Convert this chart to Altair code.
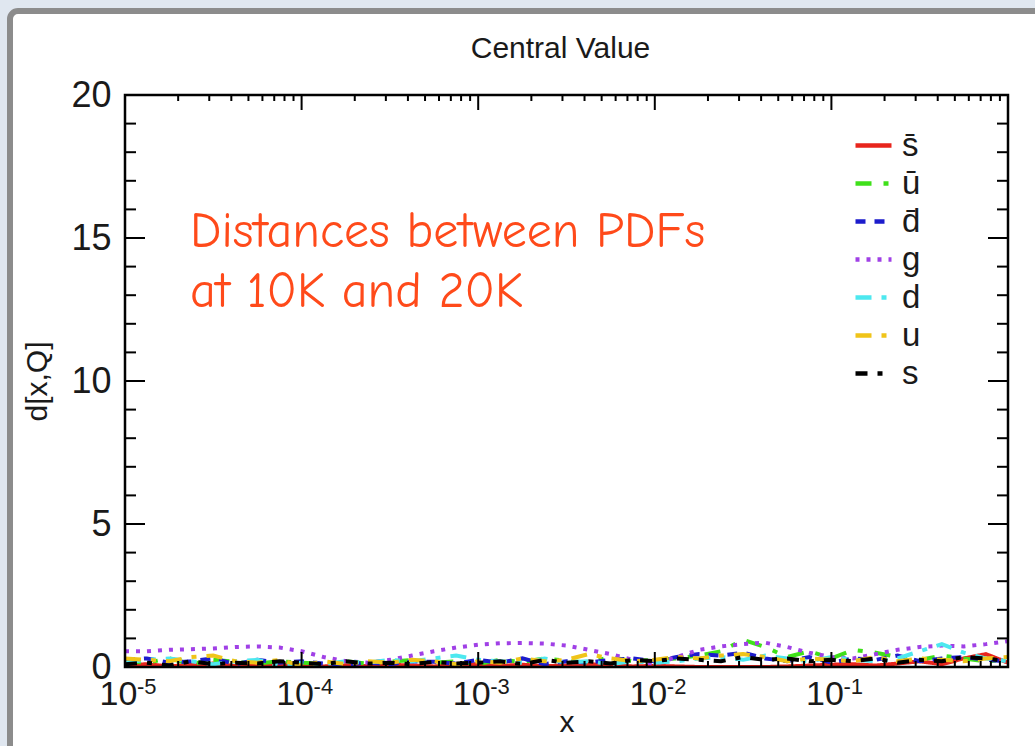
import altair as alt
import pandas as pd

# ---------------- data ----------------
X = [1.0e-5, 1.33e-5, 1.78e-5, 2.37e-5, 3.16e-5, 4.22e-5, 5.62e-5, 7.5e-5,
     1.0e-4, 1.33e-4, 1.78e-4, 2.37e-4, 3.16e-4, 4.22e-4, 5.62e-4, 7.5e-4,
     1.0e-3, 1.33e-3, 1.78e-3, 2.37e-3, 3.16e-3, 4.22e-3, 5.62e-3, 7.5e-3,
     1.0e-2, 1.33e-2, 1.78e-2, 2.37e-2, 3.16e-2, 4.22e-2, 5.62e-2, 7.5e-2,
     0.1, 0.133, 0.178, 0.237, 0.316, 0.422, 0.562, 0.75, 1.0]

SBAR = [0.05, 0.10, 0.02, 0.08, 0.12, 0.03, 0.05, 0.10,
        0.04, 0.02, 0.06, 0.03, 0.08, 0.05, 0.02, 0.06,
        0.10, 0.04, 0.08, 0.03, 0.05, 0.10, 0.06, 0.02,
        0.04, 0.02, 0.00, 0.00, 0.00, 0.00, 0.02, 0.05,
        0.08, 0.10, 0.05, 0.12, 0.20, 0.10, 0.30, 0.45, 0.15]
UBAR = [0.20, 0.15, 0.30, 0.10, 0.25, 0.18, 0.12, 0.20,
        0.15, 0.10, 0.20, 0.12, 0.18, 0.25, 0.15, 0.20,
        0.10, 0.25, 0.18, 0.30, 0.22, 0.15, 0.35, 0.20,
        0.25, 0.30, 0.40, 0.55, 0.95, 0.70, 0.35, 0.55,
        0.30, 0.60, 0.50, 0.35, 0.25, 0.40, 0.30, 0.20, 0.25]
DBAR = [0.25, 0.30, 0.15, 0.20, 0.30, 0.10, 0.25, 0.15,
        0.20, 0.12, 0.08, 0.15, 0.10, 0.20, 0.18, 0.12,
        0.25, 0.15, 0.30, 0.10, 0.20, 0.15, 0.25, 0.30,
        0.20, 0.35, 0.45, 0.40, 0.50, 0.30, 0.20, 0.35,
        0.15, 0.30, 0.25, 0.40, 0.20, 0.30, 0.35, 0.25, 0.20]
G = [0.55, 0.55, 0.60, 0.62, 0.65, 0.70, 0.72, 0.68,
     0.55, 0.35, 0.20, 0.15, 0.25, 0.40, 0.55, 0.68,
     0.78, 0.83, 0.84, 0.82, 0.75, 0.60, 0.45, 0.25,
     0.10, 0.35, 0.60, 0.72, 0.80, 0.85, 0.70, 0.50,
     0.35, 0.30, 0.45, 0.60, 0.70, 0.75, 0.72, 0.80, 0.90]
D = [0.15, 0.25, 0.30, 0.20, 0.10, 0.20, 0.25, 0.05,
     0.15, 0.10, 0.20, 0.15, 0.25, 0.20, 0.30, 0.40,
     0.25, 0.20, 0.15, 0.30, 0.15, 0.20, 0.10, 0.20,
     0.15, 0.20, 0.30, 0.35, 0.25, 0.40, 0.30, 0.20,
     0.35, 0.25, 0.20, 0.30, 0.55, 0.80, 0.50, 0.30, 0.20]
U = [0.30, 0.25, 0.20, 0.35, 0.40, 0.20, 0.15, 0.25,
     0.05, 0.20, 0.10, 0.20, 0.15, 0.25, 0.20, 0.10,
     0.20, 0.15, 0.30, 0.20, 0.25, 0.45, 0.30, 0.20,
     0.25, 0.35, 0.30, 0.40, 0.45, 0.35, 0.20, 0.30,
     0.25, 0.20, 0.35, 0.20, 0.30, 0.25, 0.20, 0.30, 0.35]
S = [0.10, 0.15, 0.05, 0.20, 0.10, 0.15, 0.12, 0.20,
     0.15, 0.10, 0.20, 0.12, 0.15, 0.10, 0.18, 0.12,
     0.15, 0.20, 0.10, 0.25, 0.15, 0.20, 0.12, 0.25,
     0.20, 0.30, 0.25, 0.20, 0.35, 0.25, 0.30, 0.20,
     0.25, 0.20, 0.30, 0.15, 0.25, 0.20, 0.35, 0.30, 0.20]

SERIES = ["s\u0304", "u\u0304", "d\u0304", "g", "d", "u", "s"]
VALUES = [SBAR, UBAR, DBAR, G, D, U, S]
COLORS = ["#e8251c", "#3fe01a", "#1c1ccc", "#a040e6", "#4de8ef", "#f0c419", "#000000"]
DASHES = [[1, 0], [16, 12, 5, 12], [10, 9], [4, 7], [16, 10, 5, 10], [16, 10, 5, 10], [12, 10, 5, 10]]

DECADES = [1e-5, 1e-4, 1e-3, 1e-2, 1e-1]
EXPONENTS = ["-5", "-4", "-3", "-2", "-1"]
MANTISSAS = [2, 3, 4, 5, 6, 7, 8, 9]
Y_LABELS = [0, 5, 10, 15, 20]
Y_MAJOR = [5, 10, 15]
Y_MINOR = [1, 2, 3, 4, 6, 7, 8, 9, 11, 12, 13, 14, 16, 17, 18, 19]

TITLE = "Central Value"
NOTE = "Distances between PDFs\nat 10K and 20K"

# ---------------- layout ----------------
W, H = 883, 572
FONT = "Liberation Sans, Arial, Helvetica, sans-serif"
INK = "#1a1a1a"

rows = []
for name, vals in zip(SERIES, VALUES):
    for xv, dv in zip(X, vals):
        rows.append({"series": name, "x": xv, "d": dv})
df = pd.DataFrame(rows)

xscale = alt.Scale(type="log", domain=[1e-5, 1], nice=False)
yscale = alt.Scale(domain=[0, 20], nice=False)

X_AXIS = alt.Axis(values=DECADES, labelExpr="'10'", title="x", domain=False,
                  ticks=False, grid=False, labelFontSize=34, labelFont=FONT,
                  labelColor=INK, labelPadding=10, labelOffset=-7, zindex=2,
                  labelFlush=False, labelOverlap=False,
                  titleFontSize=30, titleFont=FONT, titleColor=INK,
                  titleFontWeight="normal", titleY=55, titleBaseline="middle")
Y_AXIS = alt.Axis(values=Y_LABELS, title="d[x,Q]", domain=False,
                  ticks=False, grid=False, labelFontSize=36, labelFont=FONT,
                  labelColor=INK, labelPadding=14, zindex=2,
                  labelFlush=False, labelOverlap=False,
                  titleFontSize=30, titleFont=FONT, titleColor=INK,
                  titleFontWeight="normal", titlePadding=18)

one = pd.DataFrame([{"k": 0}])

panel = alt.Chart(one).mark_rect(fill="white", stroke="#8c8c8c", strokeWidth=6,
                                 cornerRadius=8).encode(
    x=alt.value(-115), x2=alt.value(W + 60), y=alt.value(-84), y2=alt.value(H + 120))

leg = alt.Legend(orient="none", legendX=728, legendY=30, title=None,
                 labelFontSize=33, labelFont=FONT, labelColor=INK,
                 symbolType="stroke", symbolSize=1296, symbolStrokeWidth=4.5,
                 rowPadding=0, labelOffset=8, padding=0, zindex=2)

lines = alt.Chart(df).mark_line(strokeWidth=4, clip=True).encode(
    x=alt.X("x:Q", scale=xscale, axis=X_AXIS),
    y=alt.Y("d:Q", scale=yscale, axis=Y_AXIS),
    color=alt.Color("series:N", scale=alt.Scale(domain=SERIES, range=COLORS), legend=leg),
    strokeDash=alt.StrokeDash("series:N", scale=alt.Scale(domain=SERIES, range=DASHES), legend=leg),
)

exp_df = pd.DataFrame({"x": DECADES, "e": EXPONENTS})
exps = alt.Chart(exp_df).mark_text(align="left", baseline="middle", fontSize=22,
                                   font=FONT, color=INK, dx=12).encode(
    x=alt.X("x:Q", scale=xscale, axis=X_AXIS), y=alt.value(H + 20), text="e:N")

xmaj = pd.DataFrame({"x": DECADES[1:]})
xmin = pd.DataFrame({"x": [m * d for d in DECADES for m in MANTISSAS]})
ymaj = pd.DataFrame({"d": Y_MAJOR})
ymin = pd.DataFrame({"d": Y_MINOR})

def xticks(data, length):
    b = alt.Chart(data).mark_rule(color="black", strokeWidth=2).encode(
        x=alt.X("x:Q", scale=xscale, axis=X_AXIS), y=alt.value(H), y2=alt.value(H - length))
    t = alt.Chart(data).mark_rule(color="black", strokeWidth=2).encode(
        x=alt.X("x:Q", scale=xscale, axis=X_AXIS), y=alt.value(0), y2=alt.value(length))
    return [b, t]

def yticks(data, length):
    l = alt.Chart(data).mark_rule(color="black", strokeWidth=2).encode(
        y=alt.Y("d:Q", scale=yscale, axis=Y_AXIS), x=alt.value(0), x2=alt.value(length))
    r = alt.Chart(data).mark_rule(color="black", strokeWidth=2).encode(
        y=alt.Y("d:Q", scale=yscale, axis=Y_AXIS), x=alt.value(W), x2=alt.value(W - length))
    return [l, r]

frame = alt.Chart(one).mark_rect(fill="transparent", stroke="black", strokeWidth=2.5).encode(
    x=alt.value(0), x2=alt.value(W), y=alt.value(0), y2=alt.value(H))

title = alt.Chart(one).mark_text(fontSize=30, font=FONT, color=INK, align="center",
                                 baseline="middle").encode(
    x=alt.value(W / 2 - 6), y=alt.value(-46), text=alt.value(TITLE))

note = alt.Chart(one).mark_text(fontSize=50, font="Comic Sans MS, Comic Neue, DejaVu Sans, sans-serif",
                                color="#ff4a1a", align="left", baseline="middle",
                                lineBreak="\n", lineHeight=60).encode(
    x=alt.value(65), y=alt.value(137), text=alt.value(NOTE))

layers = [panel, lines] + xticks(xmaj, 15) + xticks(xmin, 6) + yticks(ymaj, 20) + yticks(ymin, 11) + [frame, exps, title, note]

chart = alt.layer(*layers).properties(
    width=W, height=H,
    autosize=alt.AutoSizeParams(type="none"),
    padding={"left": 125, "top": 95, "right": 27, "bottom": 79},
    background="#e0e7f0",
).configure_view(stroke=None)

chart.save("out.html", embed_options={"renderer": "svg", "actions": False})
